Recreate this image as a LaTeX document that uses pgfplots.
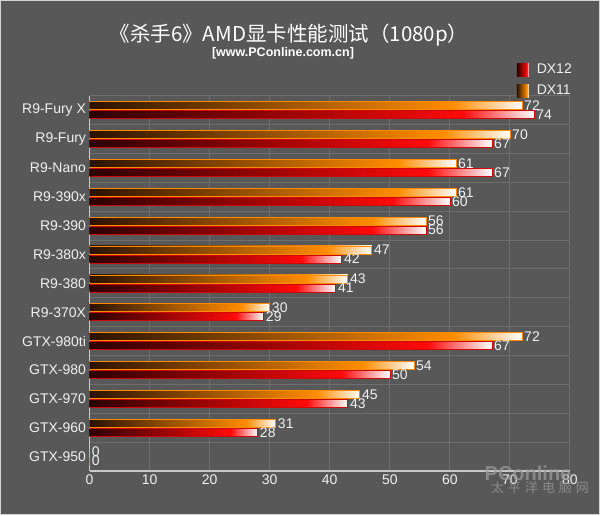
\documentclass[border=0pt]{standalone}
\usepackage{fontspec}
\setmainfont{Liberation Sans}
\newfontfamily\cjk{Noto Sans CJK SC}
\usepackage{pgfplots}
\pgfplotsset{compat=1.18}
\definecolor{bg}{HTML}{585858}
\definecolor{gridc}{HTML}{6E6E6E}
\definecolor{axisc}{HTML}{C8C8C8}
\definecolor{txt}{HTML}{F0F0F0}
\definecolor{o0}{HTML}{2A1200}
\definecolor{o1}{HTML}{FF8C00}
\definecolor{r0}{HTML}{2A0000}
\definecolor{r1}{HTML}{FF0A0A}
\definecolor{wm}{HTML}{9A9A9A}
\pgfdeclarehorizontalshading{shO}{100bp}{color(0bp)=(o0); color(25bp)=(o0); color(67bp)=(o1); color(75bp)=(white); color(100bp)=(white)}
\pgfdeclarehorizontalshading{shR}{100bp}{color(0bp)=(r0); color(25bp)=(r0); color(67bp)=(r1); color(75bp)=(white); color(100bp)=(white)}
\pgfplotsset{
  dx12/.style={xbar, bar shift=-4.5pt, shading=shR, draw=r1!80!black, line width=0.6pt},
  dx11/.style={xbar, bar shift=4.5pt, shading=shO, draw=o1, line width=0.6pt},
}
\begin{document}
\begin{tikzpicture}
\fill[bg] (0pt,0pt) rectangle (600pt,515pt);
\draw[axisc!80, line width=1pt] (0.5pt,0.5pt) rectangle (599.5pt,514.5pt);
\useasboundingbox (0pt,0pt) rectangle (600pt,515pt);
\node[text=white, font=\cjk\fontsize{20.5}{23}\selectfont] at (289pt,480pt) {《杀手6》AMD显卡性能测试（1080p）};
\node[text=white, font=\bfseries\fontsize{12.5}{14}\selectfont] at (283pt,462pt) {[www.PConline.com.cn]};
\begin{axis}[
  at={(89.5pt,44pt)}, anchor=south west, scale only axis,
  width=480.5pt, height=375.3pt,
  xmin=0, xmax=80, ymin=-0.5, ymax=12.5,
  xtick={0,10,...,80}, ytick={0,...,12},
  yticklabels={GTX-950,GTX-960,GTX-970,GTX-980,GTX-980ti,R9-370X,R9-380,R9-380x,R9-390,R9-390x,R9-Nano,R9-Fury,R9-Fury X},
  minor ytick={-0.5,0.5,...,12.5},
  xmajorgrids, yminorgrids,
  grid style={gridc, line width=1pt},
  minor grid style={gridc, line width=1pt},
  axis x line*=bottom, axis y line*=left,
  axis line style={axisc, line width=1.2pt, -},
  major tick length=0pt, minor tick length=0pt,
  tick label style={text=txt, font=\fontsize{14}{16}\selectfont},
  /pgf/number format/assume math mode=true,
  xbar, bar width=8pt,
  nodes near coords,
  nodes near coords style={anchor=west, text=txt, font=\fontsize{14}{16}\selectfont, inner sep=2pt},
  legend style={at={(rel axis cs:1,1)}, anchor=south east, xshift=4pt, yshift=-3pt,
    draw=none, fill=none, text=txt, font=\fontsize{14}{16}\selectfont, row sep=6pt, inner sep=0pt,
    /tikz/every odd column/.append style={column sep=6pt}},
  legend cell align=left,
  legend image code/.code={\path[#1, draw=none] (0pt,-6.5pt) rectangle (12pt,6.5pt);},
]
% DX12
\addplot[dx12] coordinates {(74,12)}; \addlegendentry{DX12}
\addplot[dx12, forget plot] coordinates {(67,11)};
\addplot[dx12, forget plot] coordinates {(67,10)};
\addplot[dx12, forget plot] coordinates {(60,9)};
\addplot[dx12, forget plot] coordinates {(56,8)};
\addplot[dx12, forget plot] coordinates {(42,7)};
\addplot[dx12, forget plot] coordinates {(41,6)};
\addplot[dx12, forget plot] coordinates {(29,5)};
\addplot[dx12, forget plot] coordinates {(67,4)};
\addplot[dx12, forget plot] coordinates {(50,3)};
\addplot[dx12, forget plot] coordinates {(43,2)};
\addplot[dx12, forget plot] coordinates {(28,1)};
\addplot[dx12, forget plot] coordinates {(0,0)};
% DX11
\addplot[dx11] coordinates {(72,12)}; \addlegendentry{DX11}
\addplot[dx11, forget plot] coordinates {(70,11)};
\addplot[dx11, forget plot] coordinates {(61,10)};
\addplot[dx11, forget plot] coordinates {(61,9)};
\addplot[dx11, forget plot] coordinates {(56,8)};
\addplot[dx11, forget plot] coordinates {(47,7)};
\addplot[dx11, forget plot] coordinates {(43,6)};
\addplot[dx11, forget plot] coordinates {(30,5)};
\addplot[dx11, forget plot] coordinates {(72,4)};
\addplot[dx11, forget plot] coordinates {(54,3)};
\addplot[dx11, forget plot] coordinates {(45,2)};
\addplot[dx11, forget plot] coordinates {(31,1)};
\addplot[dx11, forget plot] coordinates {(0,0)};
\end{axis}
\node[text=wm, opacity=0.75, font=\bfseries\fontsize{20}{22}\selectfont] at (528pt,42pt) {PConline};
\node[text=wm, opacity=0.75, font=\cjk\fontsize{13}{15}\selectfont, inner sep=0pt] at (540pt,27pt) {太\hspace{4pt}平\hspace{4pt}洋\hspace{4pt}电\hspace{4pt}脑\hspace{4pt}网};
\end{tikzpicture}
\end{document}
